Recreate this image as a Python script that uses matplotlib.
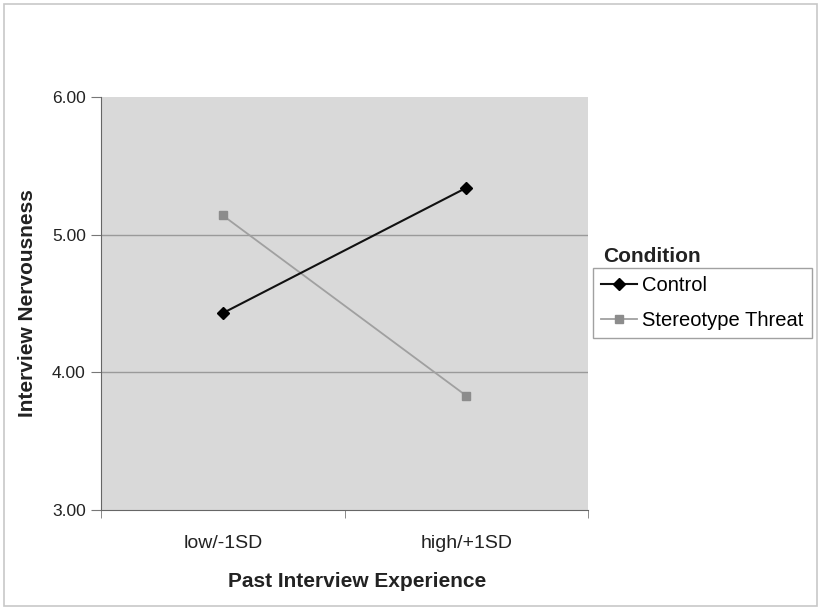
import matplotlib.pyplot as plt
from matplotlib.patches import Rectangle

plt.rcParams['font.family'] = ['Liberation Sans', 'DejaVu Sans']

# Simple slopes for the two experimental conditions
experience_levels = ['low/-1SD', 'high/+1SD']
control = [4.43, 5.34]
stereotype_threat = [5.14, 3.83]
y_ticks = [3.0, 4.0, 5.0, 6.0]

fig = plt.figure(figsize=(8.21, 6.10), dpi=100)
fig.patch.set_facecolor('white')

# thin border round the whole chart area
fig.patches.append(Rectangle((4 / 821, 1 - 606 / 610), 813 / 821, 602 / 610,
                             transform=fig.transFigure, fill=False,
                             edgecolor='#c8c8c8', linewidth=1.2))

ax = fig.add_axes([101 / 821, 1 - 510 / 610, 487 / 821, 413 / 610])
ax.set_facecolor('#d9d9d9')

x = list(range(len(experience_levels)))
ax.plot(x, stereotype_threat, color='#a0a0a0', linewidth=1.3, marker='s',
        markersize=6, markerfacecolor='#8c8c8c', markeredgecolor='#8c8c8c',
        label='Stereotype Threat', zorder=3)
ax.plot(x, control, color='#111111', linewidth=1.5, marker='D',
        markersize=6, markerfacecolor='black', markeredgecolor='black',
        label='Control', zorder=4)

ax.set_xlim(-0.5, 1.5)
ax.set_ylim(3, 6)
ax.set_yticks(y_ticks)
ax.set_yticklabels([f'{v:.2f}' for v in y_ticks])
for v in y_ticks[1:3]:
    ax.axhline(v, color='#9a9a9a', linewidth=1.0, zorder=1)

ax.set_xticks(x)
ax.set_xticklabels(experience_levels)
ax.set_xticks([-0.5, 0.5, 1.5], minor=True)
ax.tick_params(axis='x', which='major', length=0, pad=18, labelsize=14,
               labelcolor='#222222')
ax.tick_params(axis='x', which='minor', length=6, color='#777777')
ax.tick_params(axis='y', length=7, color='#777777', labelsize=12.5,
               labelcolor='#222222', pad=4)

for side in ['top', 'right']:
    ax.spines[side].set_visible(False)
ax.spines['left'].set_color('#666666')
ax.spines['bottom'].set_color('#666666')

ax.set_ylabel('Interview Nervousness', fontsize=15, fontweight='bold',
              color='#222222', va='center')
ax.yaxis.set_label_coords(-0.15, 0.5)
ax.set_xlabel('Past Interview Experience', fontsize=15, fontweight='bold',
              color='#222222', va='center')
ax.xaxis.set_label_coords(0.526, -0.172)

handles, labels = ax.get_legend_handles_labels()
leg = fig.legend(handles[::-1], labels[::-1], loc='upper left',
                 bbox_to_anchor=(593 / 821, 1 - 268 / 610),
                 frameon=True, fancybox=False, fontsize=14.5,
                 handlelength=1.8, handletextpad=0.25, borderpad=0.4,
                 labelspacing=0.8, borderaxespad=0)
leg.get_frame().set_edgecolor('#8a8a8a')
leg.get_frame().set_linewidth(1.0)
fig.text(652 / 821, 1 - 256 / 610, 'Condition', fontsize=15,
         fontweight='bold', ha='center', va='center', color='#222222')

fig.savefig('out.png', dpi=100)
